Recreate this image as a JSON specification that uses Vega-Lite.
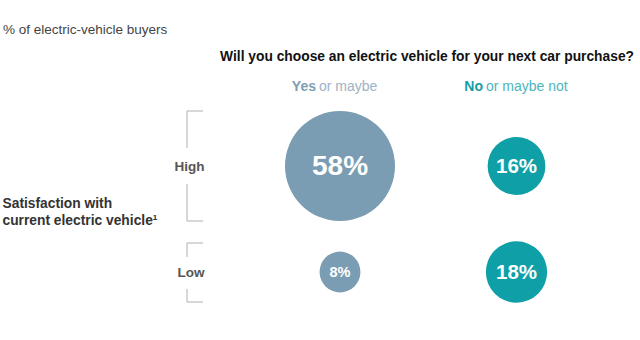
{
  "$schema": "https://vega.github.io/schema/vega-lite/v6.json",
  "width": 640,
  "height": 340,
  "autosize": "none",
  "padding": 0,
  "config": {"view": {"stroke": null}, "font": "Liberation Sans"},
  "data": {"values": [
    {"satisfaction": "High", "answer": "Yes or maybe", "value": 0.58},
    {"satisfaction": "High", "answer": "No or maybe not", "value": 0.16},
    {"satisfaction": "Low", "answer": "Yes or maybe", "value": 0.08},
    {"satisfaction": "Low", "answer": "No or maybe not", "value": 0.18}
  ]},
  "layer": [
    {
      "mark": {"type": "circle", "opacity": 1},
      "encoding": {
        "x": {"field": "answer", "type": "nominal", "axis": null,
              "scale": {"type": "point", "domain": ["Yes or maybe", "No or maybe not"], "range": [340, 516.5], "padding": 0}},
        "y": {"field": "satisfaction", "type": "nominal",
              "scale": {"type": "point", "domain": ["High", "Low"], "range": [166, 272], "padding": 0},
              "axis": {"orient": "left", "offset": -205, "domain": false, "ticks": false, "tickSize": 0, "grid": false,
                       "labelPadding": 1, "labelFontSize": 13.5, "labelFontWeight": "bold", "labelColor": "#555555",
                       "title": ["Satisfaction with", "current electric vehicle¹"],
                       "titleAngle": 0, "titleAlign": "left", "titleBaseline": "alphabetic",
                       "titleX": -203, "titleY": 207, "titleFontSize": 13.8, "titleFontWeight": "bold",
                       "titleColor": "#333333", "titleLineHeight": 17}},
        "size": {"field": "value", "type": "quantitative", "legend": null,
                 "scale": {"type": "linear", "domain": [0, 0.58], "range": [0, 12100]}},
        "color": {"field": "answer", "type": "nominal", "legend": null,
                  "scale": {"domain": ["Yes or maybe", "No or maybe not"], "range": ["#7b9db4", "#0e9fa7"]}}
      }
    },
    {
      "mark": {"type": "text", "fontWeight": "bold", "color": "white", "baseline": "middle", "align": "center", "dy": 1},
      "encoding": {
        "x": {"field": "answer", "type": "nominal"},
        "y": {"field": "satisfaction", "type": "nominal"},
        "text": {"field": "value", "type": "quantitative", "format": ".0%"},
        "size": {"field": "value", "type": "quantitative", "legend": null,
                 "scale": {"type": "threshold", "domain": [0.1, 0.3], "range": [14.5, 20.5, 28]}}
      }
    },
    {
      "data": {"values": [{"satisfaction": "High"}]},
      "mark": {"type": "rule", "color": "#b0b0b0", "strokeWidth": 1, "yOffset": -55, "y2Offset": -18},
      "encoding": {"x": {"value": 187}, "y": {"field": "satisfaction", "type": "nominal"}, "y2": {"field": "satisfaction"}}
    },
    {
      "data": {"values": [{"satisfaction": "High"}]},
      "mark": {"type": "rule", "color": "#b0b0b0", "strokeWidth": 1, "yOffset": 18, "y2Offset": 55},
      "encoding": {"x": {"value": 187}, "y": {"field": "satisfaction", "type": "nominal"}, "y2": {"field": "satisfaction"}}
    },
    {
      "data": {"values": [{"satisfaction": "High"}]},
      "mark": {"type": "rule", "color": "#b0b0b0", "strokeWidth": 1, "yOffset": -55},
      "encoding": {"x": {"value": 187}, "x2": {"value": 203}, "y": {"field": "satisfaction", "type": "nominal"}}
    },
    {
      "data": {"values": [{"satisfaction": "High"}]},
      "mark": {"type": "rule", "color": "#b0b0b0", "strokeWidth": 1, "yOffset": 55},
      "encoding": {"x": {"value": 187}, "x2": {"value": 203}, "y": {"field": "satisfaction", "type": "nominal"}}
    },
    {
      "data": {"values": [{"satisfaction": "Low"}]},
      "mark": {"type": "rule", "color": "#b0b0b0", "strokeWidth": 1, "yOffset": -29, "y2Offset": -15},
      "encoding": {"x": {"value": 187}, "y": {"field": "satisfaction", "type": "nominal"}, "y2": {"field": "satisfaction"}}
    },
    {
      "data": {"values": [{"satisfaction": "Low"}]},
      "mark": {"type": "rule", "color": "#b0b0b0", "strokeWidth": 1, "yOffset": 17, "y2Offset": 30},
      "encoding": {"x": {"value": 187}, "y": {"field": "satisfaction", "type": "nominal"}, "y2": {"field": "satisfaction"}}
    },
    {
      "data": {"values": [{"satisfaction": "Low"}]},
      "mark": {"type": "rule", "color": "#b0b0b0", "strokeWidth": 1, "yOffset": -29},
      "encoding": {"x": {"value": 187}, "x2": {"value": 203}, "y": {"field": "satisfaction", "type": "nominal"}}
    },
    {
      "data": {"values": [{"satisfaction": "Low"}]},
      "mark": {"type": "rule", "color": "#b0b0b0", "strokeWidth": 1, "yOffset": 30},
      "encoding": {"x": {"value": 187}, "x2": {"value": 203}, "y": {"field": "satisfaction", "type": "nominal"}}
    },
    {
      "data": {"values": [{"answer": "Yes or maybe", "part": "Yes"}]},
      "mark": {"type": "text", "align": "right", "baseline": "middle", "fontSize": 14, "fontWeight": "bold", "dx": -24, "color": "#7f9eb5"},
      "encoding": {"x": {"field": "answer", "type": "nominal"}, "y": {"value": 87}, "text": {"field": "part"}}
    },
    {
      "data": {"values": [{"answer": "Yes or maybe", "part": "or maybe"}]},
      "mark": {"type": "text", "align": "left", "baseline": "middle", "fontSize": 14, "dx": -21, "color": "#9cb3c4"},
      "encoding": {"x": {"field": "answer", "type": "nominal"}, "y": {"value": 87}, "text": {"field": "part"}}
    },
    {
      "data": {"values": [{"answer": "No or maybe not", "part": "No"}]},
      "mark": {"type": "text", "align": "right", "baseline": "middle", "fontSize": 14, "fontWeight": "bold", "dx": -33.5, "color": "#139ea7"},
      "encoding": {"x": {"field": "answer", "type": "nominal"}, "y": {"value": 87}, "text": {"field": "part"}}
    },
    {
      "data": {"values": [{"answer": "No or maybe not", "part": "or maybe not"}]},
      "mark": {"type": "text", "align": "left", "baseline": "middle", "fontSize": 14, "dx": -30.5, "color": "#4db5bb"},
      "encoding": {"x": {"field": "answer", "type": "nominal"}, "y": {"value": 87}, "text": {"field": "part"}}
    },
    {
      "data": {"values": [{"t": "Will you choose an electric vehicle for your next car purchase?"}]},
      "mark": {"type": "text", "align": "right", "baseline": "middle", "fontSize": 13.8, "fontWeight": "bold", "color": "#111111"},
      "encoding": {"x": {"value": 634}, "y": {"value": 57}, "text": {"field": "t"}}
    },
    {
      "data": {"values": [{"t": "% of electric-vehicle buyers"}]},
      "mark": {"type": "text", "align": "left", "baseline": "middle", "fontSize": 13.5, "color": "#444444"},
      "encoding": {"x": {"value": 3}, "y": {"value": 30}, "text": {"field": "t"}}
    }
  ]
}
